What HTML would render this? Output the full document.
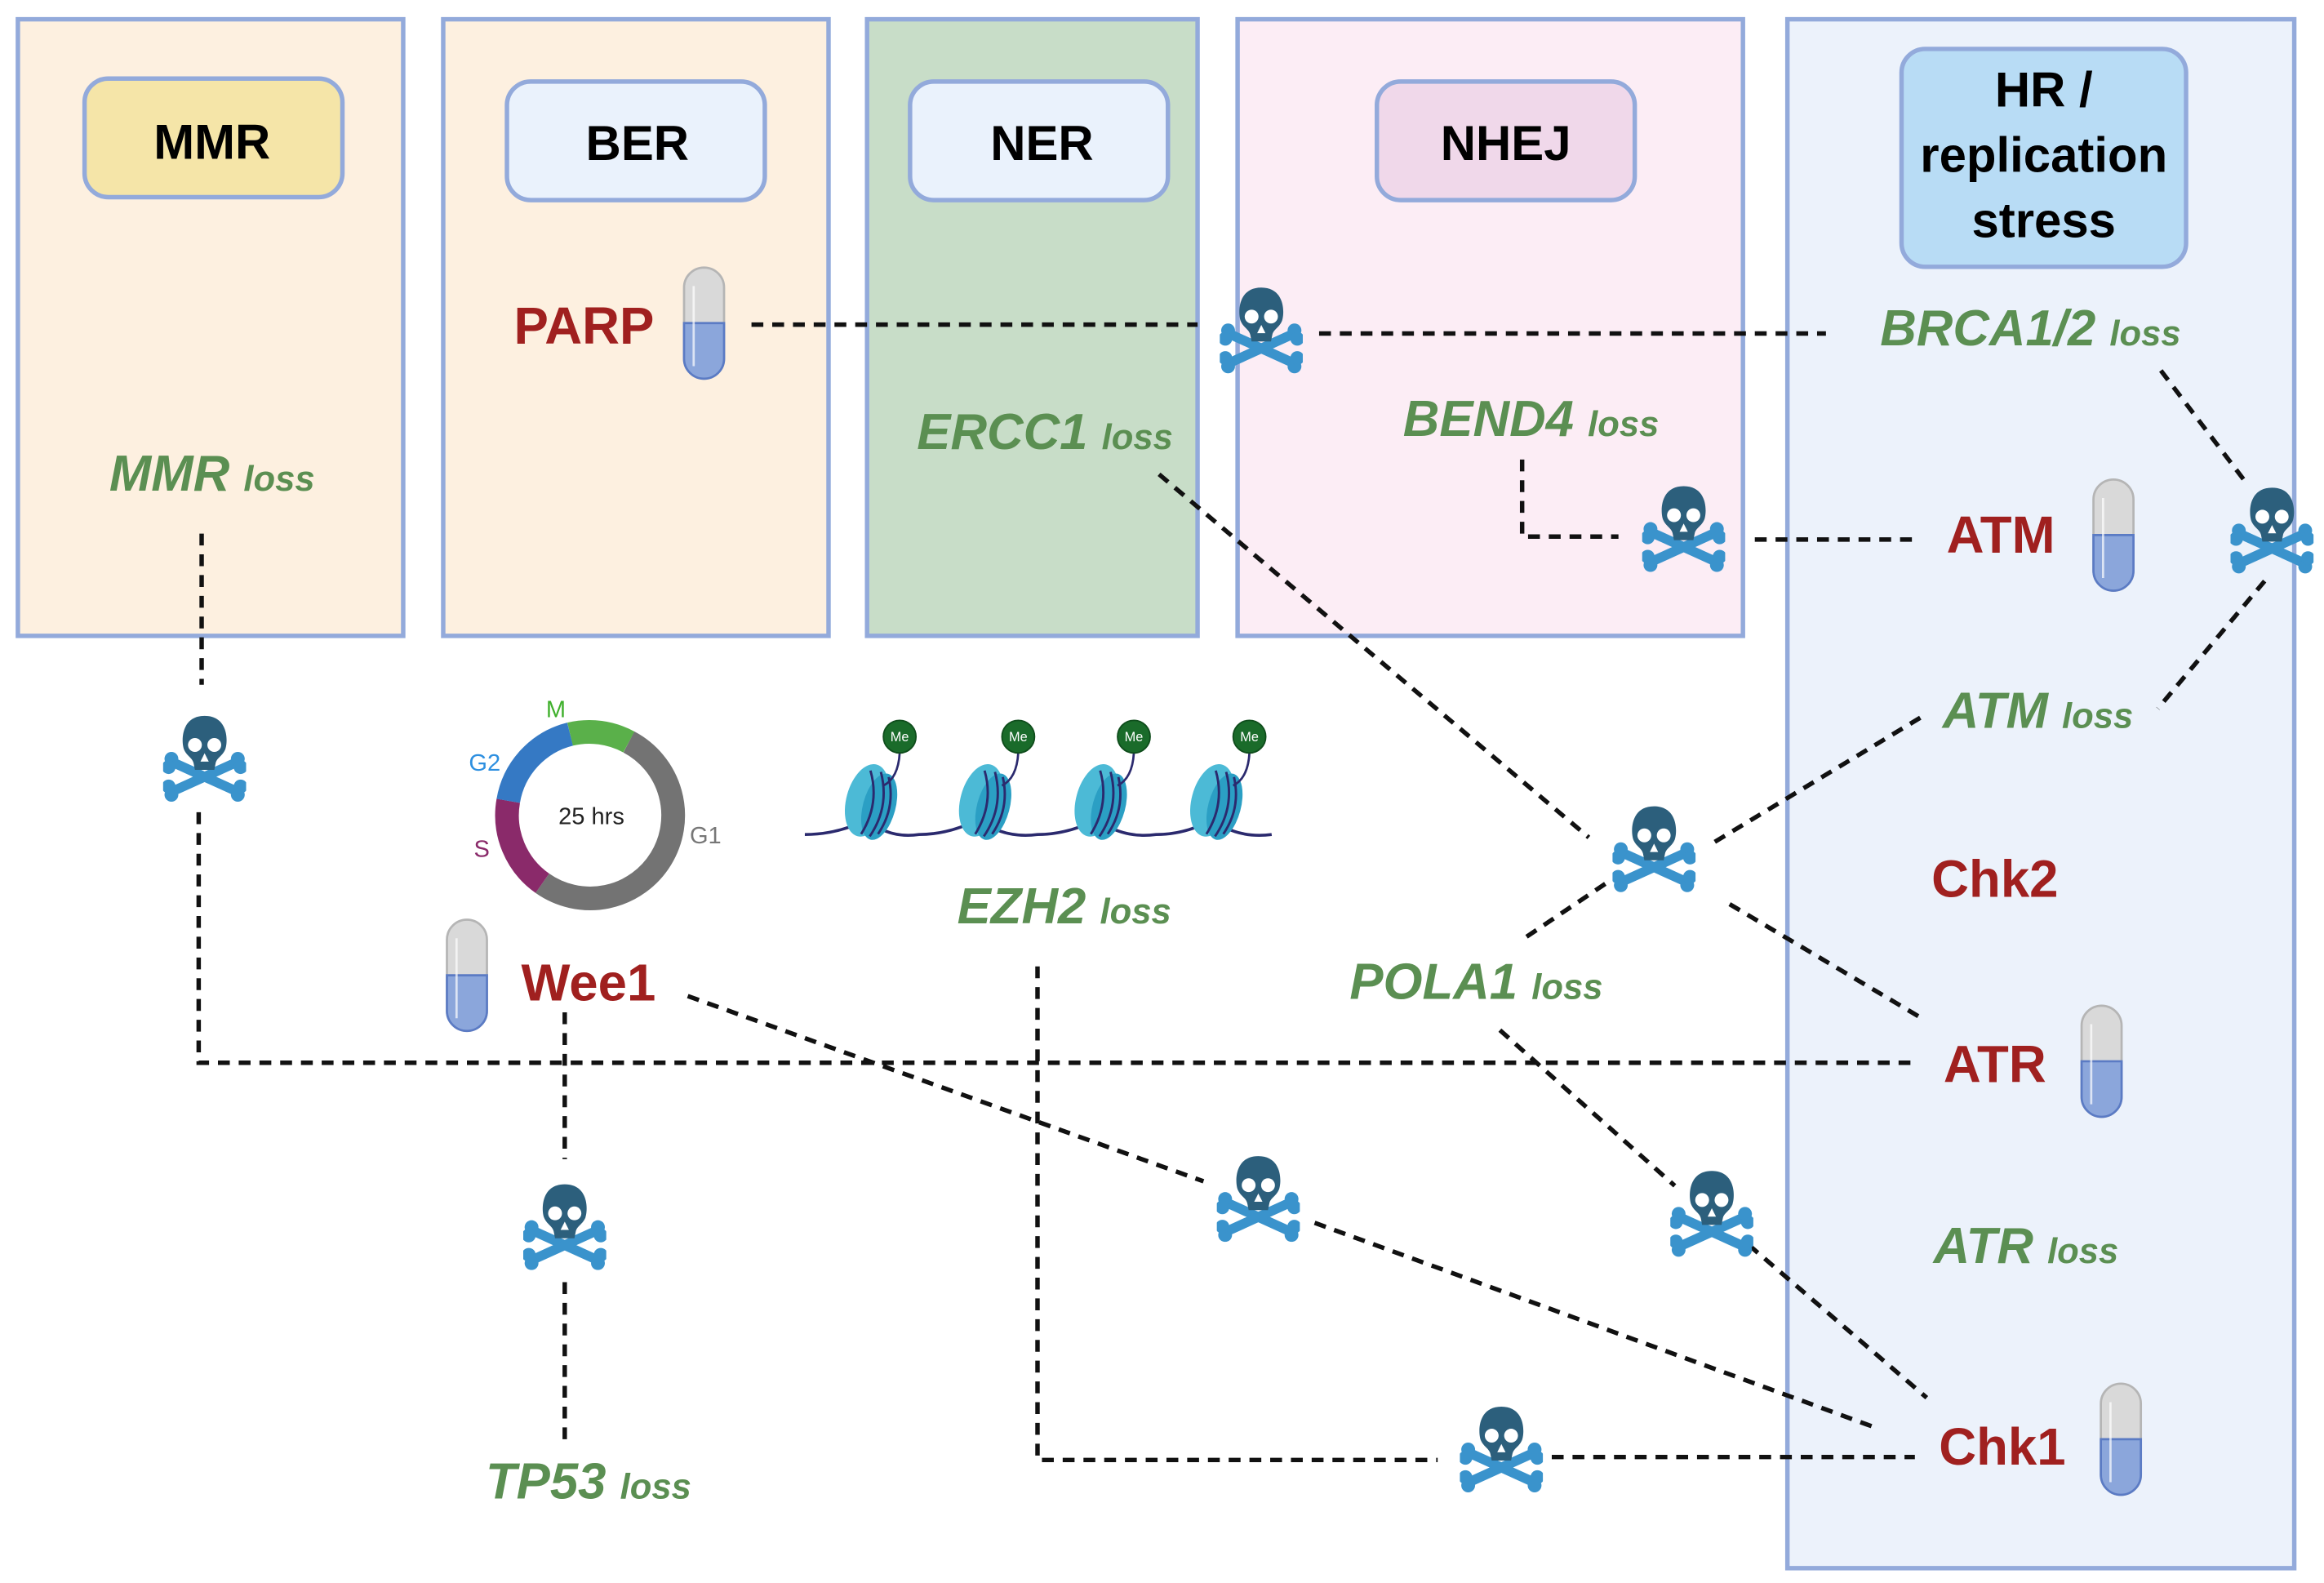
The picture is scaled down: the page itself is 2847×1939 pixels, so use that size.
<!DOCTYPE html>
<html><head><meta charset="utf-8"><style>
html,body{margin:0;padding:0;background:#fff;}
svg{display:block;}
.h{font-family:"Liberation Sans",sans-serif;font-weight:bold;font-size:33px;fill:#000;text-anchor:middle;}
.r{font-family:"Liberation Sans",sans-serif;font-weight:bold;font-size:35px;fill:#a0201f;text-anchor:middle;}
.g{font-family:"Liberation Sans",sans-serif;font-weight:bold;font-style:italic;font-size:34px;fill:#5b8f52;text-anchor:middle;}
.g tspan{font-size:24px;}
.d{stroke:#111;stroke-width:3;stroke-dasharray:8 6;fill:none;}
</style></head><body>
<svg width="2847" height="1939" viewBox="0 0 1568 1068" xmlns="http://www.w3.org/2000/svg">
<defs>
<symbol id="sk" viewBox="-30 -32 60 64">
<g stroke="#3a93cc" stroke-width="7" stroke-linecap="round">
<line x1="-22" y1="4" x2="22" y2="24"/><line x1="22" y1="4" x2="-22" y2="24"/>
</g>
<g fill="#3a93cc"><circle cx="-24" cy="1" r="5"/><circle cx="-26" cy="7" r="5"/><circle cx="24" cy="1" r="5"/><circle cx="26" cy="7" r="5"/>
<circle cx="-24" cy="27" r="5"/><circle cx="-26" cy="21" r="5"/><circle cx="24" cy="27" r="5"/><circle cx="26" cy="21" r="5"/></g>
<path d="M0,-30 C-17,-30 -17,-12 -15,-6 C-13,-1 -9,0 -8,4 L-7,9 L7,9 L8,4 C9,0 13,-1 15,-6 C17,-12 17,-30 0,-30Z" fill="#2c5f7c"/>
<circle cx="-7" cy="-9" r="5" fill="#fff"/><circle cx="7" cy="-9" r="5" fill="#fff"/>
<path d="M0,-3 L-3,3 L3,3Z" fill="#fff"/>
</symbol>
<symbol id="pill" viewBox="0 0 30 78">
<rect x="1.5" y="1.5" width="27" height="75" rx="13.5" fill="#d9d9d9" stroke="#b5b5b5" stroke-width="1.5"/>
<path d="M1.5,39 H28.5 V63 A13.5,13.5 0 0 1 1.5,63 Z" fill="#8ba6db" stroke="#5b7bc4" stroke-width="1.5"/>
<line x1="8" y1="14" x2="8" y2="68" stroke="#fff" stroke-width="1.5" opacity="0.7"/>
</symbol>
<g id="nuc">
<ellipse cx="0" cy="0" rx="14" ry="25" fill="#4cbad6"/><ellipse cx="9" cy="2" rx="11" ry="23" fill="#2b9fc4"/>
<path d="M-3,-20 Q9,0 2,23 M4,-21 Q16,0 8,23 M10,-19 Q20,0 13,20" stroke="#2b2a6e" stroke-width="1.6" fill="none"/>
</g>
</defs>
<g stroke="#93aadb" stroke-width="3">
<rect x="12" y="13" width="260" height="416" fill="#fdf0e0"/>
<rect x="299" y="13" width="260" height="416" fill="#fdf0e0"/>
<rect x="585" y="13" width="223" height="416" fill="#c8ddc8"/>
<rect x="835" y="13" width="341" height="416" fill="#fcedf5"/>
<rect x="1206" y="13" width="342" height="1045" fill="#ecf2fb"/>
<rect x="57" y="53" width="174" height="80" rx="16" fill="#f5e5a8"/>
<rect x="342" y="55" width="174" height="80" rx="16" fill="#eaf2fc"/>
<rect x="614" y="55" width="174" height="80" rx="16" fill="#eaf2fc"/>
<rect x="929" y="55" width="174" height="80" rx="16" fill="#f0d8ea"/>
<rect x="1283" y="33" width="192" height="147" rx="16" fill="#b8dcf5"/>
</g>
<text class="h" x="143" y="107">MMR</text>
<text class="h" x="430" y="108">BER</text>
<text class="h" x="703" y="108">NER</text>
<text class="h" x="1016" y="108">NHEJ</text>
<text class="h" x="1379" y="72">HR /</text>
<text class="h" x="1379" y="116">replication</text>
<text class="h" x="1379" y="160">stress</text>
<g class="d">
<line x1="507" y1="219" x2="808" y2="219"/>
<line x1="890" y1="225" x2="1232" y2="225"/>
<line x1="1458" y1="250" x2="1515" y2="325"/>
<line x1="1528" y1="392" x2="1456" y2="478"/>
<polyline points="1027,310 1027,362 1092,362"/>
<line x1="1184" y1="364" x2="1290" y2="364"/>
<line x1="782" y1="320" x2="1072" y2="565"/>
<line x1="1157" y1="568" x2="1296" y2="484"/>
<line x1="1030" y1="632" x2="1085" y2="595"/>
<line x1="1167" y1="610" x2="1295" y2="686"/>
<line x1="136" y1="360" x2="136" y2="462"/>
<polyline points="134,548 134,717 1290,717"/>
<line x1="381" y1="683" x2="381" y2="782"/>
<line x1="381" y1="865" x2="381" y2="975"/>
<line x1="464" y1="672" x2="812" y2="797"/>
<line x1="887" y1="825" x2="1265" y2="963"/>
<line x1="1012" y1="695" x2="1130" y2="800"/>
<line x1="1180" y1="840" x2="1300" y2="943"/>
<polyline points="700,652 700,985 970,985"/>
<line x1="1047" y1="983" x2="1292" y2="983"/>
</g>
<use href="#sk" x="823" y="192" width="56" height="60"/>
<use href="#sk" x="1108" y="326" width="56" height="60"/>
<use href="#sk" x="1505" y="327" width="56" height="60"/>
<use href="#sk" x="110" y="481" width="56" height="60"/>
<use href="#sk" x="1088" y="542" width="56" height="60"/>
<use href="#sk" x="353" y="797" width="56" height="60"/>
<use href="#sk" x="821" y="778" width="56" height="60"/>
<use href="#sk" x="1127" y="788" width="56" height="60"/>
<use href="#sk" x="985" y="947" width="56" height="60"/>
<use href="#pill" x="460" y="179" width="30" height="78"/>
<use href="#pill" x="1411" y="322" width="30" height="78"/>
<use href="#pill" x="1403" y="677" width="30" height="78"/>
<use href="#pill" x="1416" y="932" width="30" height="78"/>
<use href="#pill" x="300" y="619" width="30" height="78"/>
<text class="r" x="394" y="232">PARP</text>
<text class="r" x="1350" y="373">ATM</text>
<text class="r" x="1346" y="605">Chk2</text>
<text class="r" x="1346" y="730">ATR</text>
<text class="r" x="1351" y="988">Chk1</text>
<text class="r" x="397" y="675">Wee1</text>
<text class="g" x="143" y="331">MMR <tspan>loss</tspan></text>
<text class="g" x="705" y="303">ERCC1 <tspan>loss</tspan></text>
<text class="g" x="1033" y="294">BEND4 <tspan>loss</tspan></text>
<text class="g" x="1370" y="233">BRCA1/2 <tspan>loss</tspan></text>
<text class="g" x="1375" y="491">ATM <tspan>loss</tspan></text>
<text class="g" x="718" y="623">EZH2 <tspan>loss</tspan></text>
<text class="g" x="996" y="674">POLA1 <tspan>loss</tspan></text>
<text class="g" x="1367" y="852">ATR <tspan>loss</tspan></text>
<text class="g" x="397" y="1011">TP53 <tspan>loss</tspan></text>
<g fill="none" stroke-width="16">
<path d="M384.6,495.3 A56,56 0 0 1 424.3,500.6" stroke="#5ab04a"/>
<path d="M424.3,500.6 A56,56 0 1 1 365.9,595.9" stroke="#737373"/>
<path d="M365.9,595.9 A56,56 0 0 1 342.9,540.3" stroke="#8a2a6a"/>
<path d="M342.9,540.3 A56,56 0 0 1 384.6,495.3" stroke="#3579c4"/>
</g>
<g font-family="Liberation Sans,sans-serif" font-size="16" text-anchor="middle">
<text x="399" y="556" fill="#222">25 hrs</text>
<text x="375" y="484" fill="#3fb02c">M</text>
<text x="327" y="520" fill="#2d8fe0">G2</text>
<text x="325" y="578" fill="#8a2a6a">S</text>
<text x="476" y="569" fill="#777">G1</text>
</g>
<path d="M543,563 Q565,563 585,553 Q600,566 620,563 Q640,563 660,553 Q678,566 700,563 Q720,563 740,553 Q758,566 780,563 Q800,563 818,553 Q835,566 858,563" fill="none" stroke="#2b2a6e" stroke-width="2"/>
<use href="#nuc" transform="translate(585,540) rotate(15)"/>
<use href="#nuc" transform="translate(662,540) rotate(15)"/>
<use href="#nuc" transform="translate(740,540) rotate(15)"/>
<use href="#nuc" transform="translate(818,540) rotate(15)"/>
<g stroke="#2b2a6e" stroke-width="1.5" fill="none">
<path d="M607,508 Q606,525 596,530"/><path d="M687,508 Q686,525 676,530"/><path d="M765,508 Q764,525 754,530"/><path d="M843,508 Q842,525 832,530"/>
</g>
<g fill="#1a6b2a" stroke="#0f4d1c" stroke-width="1">
<circle cx="607" cy="497" r="11"/><circle cx="687" cy="497" r="11"/><circle cx="765" cy="497" r="11"/><circle cx="843" cy="497" r="11"/>
</g>
<g font-family="Liberation Sans,sans-serif" font-size="9" fill="#fff" text-anchor="middle">
<text x="607" y="500">Me</text><text x="687" y="500">Me</text><text x="765" y="500">Me</text><text x="843" y="500">Me</text>
</g>
</svg>
</body></html>
